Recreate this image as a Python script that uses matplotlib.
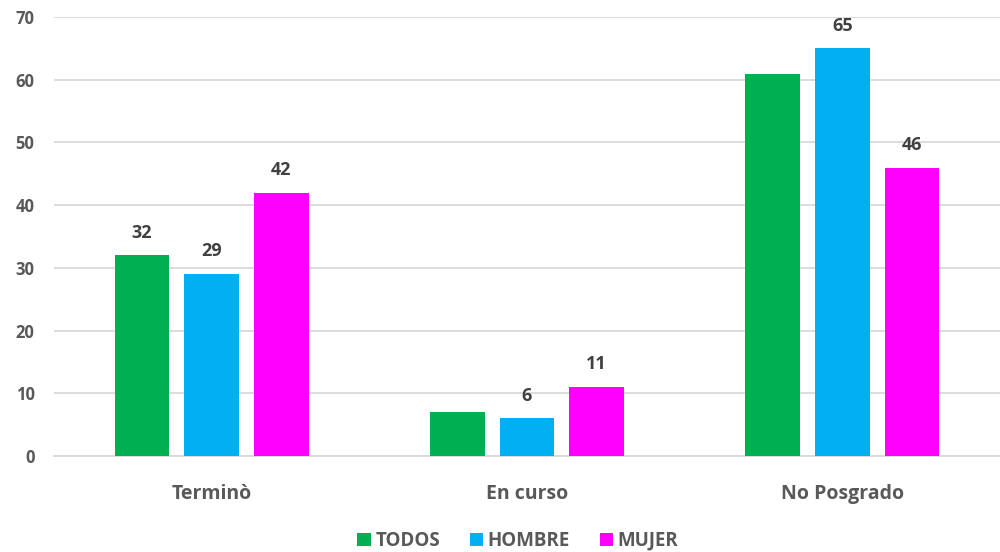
import matplotlib.pyplot as plt
import numpy as np

categorias = ['Terminò', 'En curso', 'No Posgrado']
series = ['TODOS', 'HOMBRE', 'MUJER']
todos = [32, 7, 61]
hombre = [29, 6, 65]
mujer = [42, 11, 46]
# etiquetas visibles (None = sin etiqueta)
etiq_todos = [32, None, None]
etiq_hombre = [29, 6, 65]
etiq_mujer = [42, 11, 46]

colores = ['#00B050', '#00B0F0', '#FF00FF']

plt.rcParams['font.family'] = ['Open Sans', 'DejaVu Sans']

fig = plt.figure(figsize=(10, 5.52), dpi=100)
ax = fig.add_axes([0.054, 0.174, 0.946, 0.795])

x = np.arange(len(categorias))
ancho = 0.174
paso = 0.221
datos = [todos, hombre, mujer]
etiquetas = [etiq_todos, etiq_hombre, etiq_mujer]
for i, (vals, col, nom, et) in enumerate(zip(datos, colores, series, etiquetas)):
    pos = x + (i - 1) * paso
    bars = ax.bar(pos, vals, width=ancho, color=col, label=nom, zorder=3)
    for b, e in zip(bars, et):
        if e is not None:
            ax.text(b.get_x() + b.get_width() / 2, b.get_height() + 2.2, str(e),
                    ha='center', va='bottom', fontsize=13, fontweight='bold', color='#404040')

ax.set_xlim(-0.5, 2.5)
ax.set_ylim(0, 70)
ax.set_yticks(range(0, 71, 10))
ax.set_xticks(x)
ax.set_xticklabels(categorias, fontsize=14, color='#595959', fontweight='bold')
ax.tick_params(axis='y', labelsize=12, labelcolor='#595959', length=0, pad=14)
ax.tick_params(axis='x', length=0, pad=20)
for lbl in ax.get_yticklabels():
    lbl.set_fontweight('bold')
ax.grid(axis='y', color='#D9D9D9', linewidth=1.3, zorder=0)
for s in ['top', 'right', 'left']:
    ax.spines[s].set_visible(False)
ax.spines['bottom'].set_color('#D9D9D9')
ax.spines['bottom'].set_linewidth(1.3)

leg = fig.legend(loc='center', bbox_to_anchor=(0.518, 0.02), ncol=3, frameon=False,
                 handlelength=0.7, handleheight=0.7, handletextpad=0.25, columnspacing=1.6,
                 prop={'size': 13.5, 'weight': 'bold'})
for t in leg.get_texts():
    t.set_color('#595959')

fig.savefig('out.png', dpi=100)
